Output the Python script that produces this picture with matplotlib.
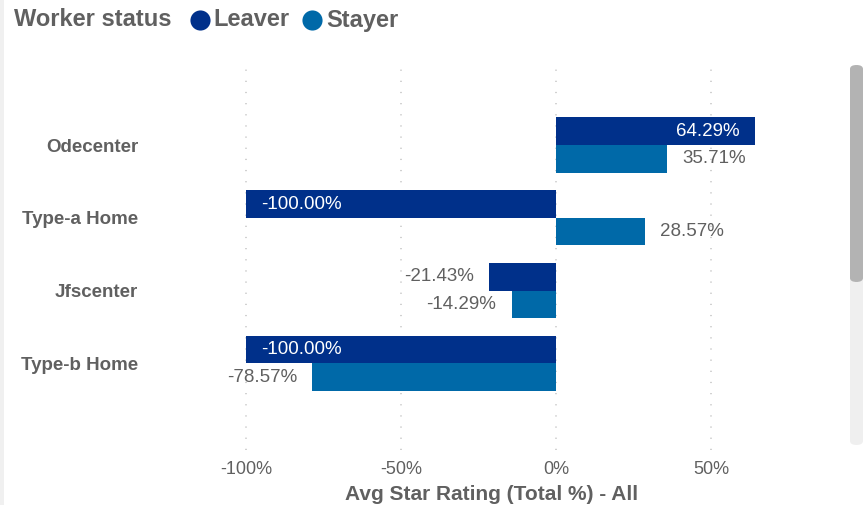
import matplotlib
matplotlib.use("Agg")
import matplotlib.pyplot as plt
import numpy as np
from matplotlib.patches import FancyBboxPatch, Rectangle
from matplotlib.lines import Line2D
from matplotlib.ticker import FuncFormatter

plt.rcParams['font.family'] = ['Liberation Sans', 'DejaVu Sans']

categories = ["Odecenter", "Type-a Home", "Jfscenter", "Type-b Home"]
leaver = [64.29, -100.00, -21.43, -100.00]
stayer = [35.71, 28.57, -14.29, -78.57]
xticks = [-100, -50, 0, 50]

c_leaver = "#00308a"
c_stayer = "#0069a8"
gray = "#606060"

fig = plt.figure(figsize=(8.65, 5.05), dpi=100)
ax = fig.add_axes([200 / 865, 55 / 505, 630 / 865, 385 / 505])

y = np.arange(len(categories))
h = 0.38
ax.barh(y - h / 2, leaver, height=h, color=c_leaver, zorder=2)
ax.barh(y + h / 2, stayer, height=h, color=c_stayer, zorder=2)

# long leaver bars carry their label inside (white), the rest sit outside (gray)
def put_label(val, yy, inside):
    txt = "{:.2f}%".format(val)
    if inside:
        off = -11 if val > 0 else 11
        ha = "right" if val > 0 else "left"
        ax.annotate(txt, (val, yy), xytext=(off, 0), textcoords="offset points",
                    ha=ha, va="center", color="white", fontsize=13.5, zorder=3)
    else:
        off = 11 if val > 0 else -11
        ha = "left" if val > 0 else "right"
        ax.annotate(txt, (val, yy), xytext=(off, 0), textcoords="offset points",
                    ha=ha, va="center", color=gray, fontsize=13.5, zorder=3)

for i in range(len(categories)):
    put_label(leaver[i], y[i] - h / 2, abs(leaver[i]) >= 50)
    put_label(stayer[i], y[i] + h / 2, False)

ax.set_xlim(-114.8, 88.4)
ax.set_ylim(4.19, -1.1)
ax.set_xticks(xticks)
ax.xaxis.set_major_formatter(FuncFormatter(lambda v, p: "{:.0f}%".format(v)))
ax.set_yticks(y)
ax.set_yticklabels(categories, fontweight="bold")
ax.tick_params(axis="x", length=0, pad=8, labelsize=13, labelcolor=gray)
ax.tick_params(axis="y", length=0, pad=44.5, labelsize=13.5, labelcolor=gray)
for s in ax.spines.values():
    s.set_visible(False)
ax.grid(axis="x", color="#c4c4c4", linestyle=(0, (0.8, 6.5)), linewidth=1.1, zorder=0)

fig.text(492 / 865, 11 / 505, "Avg Star Rating (Total %) - All", ha="center", va="center",
         fontsize=15, fontweight="bold", color=gray)

# legend header
fig.text(14 / 865, 1 - 20 / 505, "Worker status", ha="left", va="center",
         fontsize=17, fontweight="bold", color=gray)
fig.add_artist(Line2D([200 / 865], [1 - 20 / 505], marker="o", markersize=14.5,
                      markeredgewidth=0, color=c_leaver, transform=fig.transFigure))
fig.text(213 / 865, 1 - 20 / 505, "Leaver", ha="left", va="center",
         fontsize=17, fontweight="bold", color=gray)
fig.add_artist(Line2D([312 / 865], [1 - 20 / 505], marker="o", markersize=14.5,
                      markeredgewidth=0, color=c_stayer, transform=fig.transFigure))
fig.text(326 / 865, 1 - 20 / 505, "Stayer", ha="left", va="center",
         fontsize=17, fontweight="bold", color=gray)

# left border strip and scrollbar
fig.add_artist(Rectangle((0, 0), 4 / 865, 1, transform=fig.transFigure,
                         color="#f0f0f0", lw=0))
fig.add_artist(FancyBboxPatch((850 / 865, 60 / 505), 13 / 865, 380 / 505,
                              boxstyle="round,pad=0,rounding_size=0.008",
                              transform=fig.transFigure, color="#efefef", lw=0))
fig.add_artist(FancyBboxPatch((850 / 865, 223 / 505), 13 / 865, 217 / 505,
                              boxstyle="round,pad=0,rounding_size=0.008",
                              transform=fig.transFigure, color="#b3b3b3", lw=0))

fig.savefig("out.png", dpi=100)
